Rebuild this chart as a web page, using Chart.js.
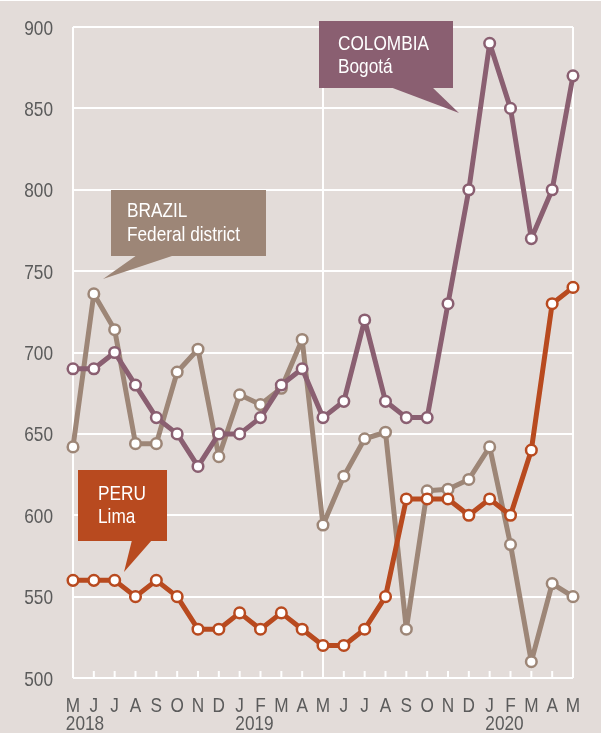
<!DOCTYPE html>
<html>
<head>
<meta charset="utf-8">
<script src="https://cdn.jsdelivr.net/npm/chart.js@4/dist/chart.umd.min.js"></script>
<style>
  html, body { margin: 0; padding: 0; background: #fff; }
  canvas { display: block; background: #e3dcd9; }
</style>
</head>
<body>
<canvas id="chart" width="601" height="733"></canvas>
<script>
// --- data ---
const months = ['M','J','J','A','S','O','N','D','J','F','M','A','M','J','J','A','S','O','N','D','J','F','M','A','M'];
const yearLabels = ['2018', '2019', '2020'];
const yearIndex = [0, 8, 20];
const colombia = [690,690,700,680,660,650,630,650,650,660,680,690,660,670,720,670,660,660,730,800,890,850,770,800,870];
const brazil   = [642,736,714,644,644,688,702,636,674,668,678,708,594,624,647,651,530,615,616,622,642,582,510,558,550];
const peru     = [560,560,560,550,560,550,530,530,540,530,540,530,520,520,530,550,610,610,610,600,610,600,640,730,740];
const yTicks = [500, 550, 600, 650, 700, 750, 800, 850, 900];

// no narrow font installed: squeeze Liberation Sans horizontally (Arial Narrow look)
const FONT = '21px "Liberation Sans", Arial, sans-serif';
const SQUEEZE = 0.82;
const labelColor = '#5b5b5b';

function narrowText(ctx, text, x, y, align) {
  ctx.save();
  ctx.translate(x, y);
  ctx.scale(SQUEEZE, 1);
  ctx.textAlign = align;
  ctx.textBaseline = 'alphabetic';
  ctx.fillText(text, 0, 0);
  ctx.restore();
}

// callouts: box + tail + text
const callouts = [
  { lines: ['COLOMBIA', 'Bogotá'], color: '#8a5f71', box: [319, 21, 453, 88], tail: [[390, 88], [432, 88], [459, 113]], text: [338, 50, 73] },
  { lines: ['BRAZIL', 'Federal district'], color: '#9d8677', box: [111, 190, 266, 256], tail: [[137, 256], [175, 256], [103, 279]], text: [127, 217, 241] },
  { lines: ['PERU', 'Lima'], color: '#b84a1f', box: [78, 470, 167, 541], tail: [[132, 541], [152, 541], [124, 572]], text: [98, 500, 523] }
];

const calloutPlugin = {
  id: 'callouts',
  afterDatasetsDraw(chart) {
    const ctx = chart.ctx;
    ctx.save();
    callouts.forEach(c => {
      ctx.fillStyle = c.color;
      const b = c.box;
      ctx.fillRect(b[0], b[1], b[2] - b[0], b[3] - b[1]);
      ctx.beginPath();
      ctx.moveTo(c.tail[0][0], c.tail[0][1] - 1);
      ctx.lineTo(c.tail[1][0], c.tail[1][1] - 1);
      ctx.lineTo(c.tail[2][0], c.tail[2][1]);
      ctx.closePath();
      ctx.fill();
      ctx.fillStyle = '#fff';
      ctx.font = FONT;
      narrowText(ctx, c.lines[0], c.text[0], c.text[1], 'left');
      narrowText(ctx, c.lines[1], c.text[0], c.text[2], 'left');
    });
    ctx.restore();
  }
};

// white strip on top, inward ticks on the x axis, all axis labels
const axisExtras = {
  id: 'axisExtras',
  beforeDraw(chart) {
    chart.ctx.save();
    chart.ctx.fillStyle = '#fff';
    chart.ctx.fillRect(0, 0, chart.width, 1);
    chart.ctx.restore();
  },
  beforeDatasetsDraw(chart) {
    const ctx = chart.ctx;
    const x = chart.scales.x;
    const bottom = chart.chartArea.bottom;
    ctx.save();
    ctx.strokeStyle = '#fff';
    ctx.lineWidth = 2;
    months.forEach((m, i) => {
      const px = x.getPixelForValue(i);
      ctx.beginPath();
      ctx.moveTo(px, bottom);
      ctx.lineTo(px, bottom - 7);
      ctx.stroke();
    });
    ctx.restore();
  },
  afterDraw(chart) {
    const ctx = chart.ctx;
    const x = chart.scales.x;
    const y = chart.scales.y;
    ctx.save();
    ctx.font = FONT;
    ctx.fillStyle = labelColor;
    // y labels
    yTicks.forEach(v => {
      narrowText(ctx, String(v), y.left + y.width - 20, y.getPixelForValue(v) + 7.5, 'right');
    });
    // month letters
    months.forEach((m, i) => {
      narrowText(ctx, m, x.getPixelForValue(i), 712, 'center');
    });
    // years, left-aligned with their month letter
    yearLabels.forEach((t, k) => {
      const i = yearIndex[k];
      const w = ctx.measureText(months[i]).width * SQUEEZE;
      narrowText(ctx, t, x.getPixelForValue(i) - w / 2, 730, 'left');
    });
    ctx.restore();
  }
};

function lineSet(label, data, color) {
  return {
    label: label,
    data: data,
    borderColor: color,
    borderWidth: 5,
    borderJoinStyle: 'round',
    pointRadius: 5.3,
    pointBorderWidth: 2.5,
    pointBackgroundColor: '#fff',
    pointBorderColor: color,
    tension: 0,
    clip: false
  };
}

new Chart(document.getElementById('chart'), {
  type: 'line',
  data: {
    labels: months,
    datasets: [
      lineSet('PERU Lima', peru, '#b84a1f'),
      lineSet('COLOMBIA Bogotá', colombia, '#8a5f71'),
      lineSet('BRAZIL Federal district', brazil, '#9d8677')
    ]
  },
  options: {
    responsive: false,
    animation: false,
    layout: { padding: { top: 27, right: 28, left: 0, bottom: 0 } },
    plugins: { legend: { display: false }, tooltip: { enabled: false } },
    scales: {
      x: {
        offset: false,
        grid: {
          color: c => (c.index % 12 === 0 ? '#fff' : 'rgba(0,0,0,0)'),
          lineWidth: 2,
          drawTicks: false
        },
        border: { display: false },
        ticks: { display: false, autoSkip: false },
        afterFit(s) { s.height = 55; }
      },
      y: {
        min: 500,
        max: 900,
        afterBuildTicks(s) { s.ticks = yTicks.map(v => ({ value: v })); },
        grid: { color: '#fff', lineWidth: 2, drawTicks: false },
        border: { display: false },
        ticks: { display: false },
        afterFit(s) { s.width = 73; }
      }
    }
  },
  plugins: [calloutPlugin, axisExtras]
});
</script>
</body>
</html>
